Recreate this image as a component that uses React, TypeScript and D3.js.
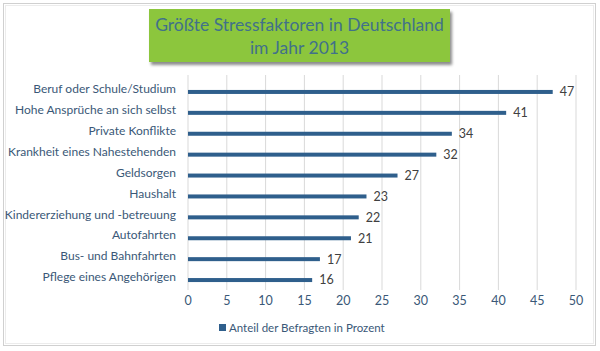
import React from "react";
import * as d3 from "d3";

const categories = [
  "Beruf oder Schule/Studium",
  "Hohe Ansprüche an sich selbst",
  "Private Konflikte",
  "Krankheit eines Nahestehenden",
  "Geldsorgen",
  "Haushalt",
  "Kindererziehung und -betreuung",
  "Autofahrten",
  "Bus- und Bahnfahrten",
  "Pflege eines Angehörigen",
];
const values = [47, 41, 34, 32, 27, 23, 22, 21, 17, 16];
const xTicks = [0, 5, 10, 15, 20, 25, 30, 35, 40, 45, 50];
const titleLines = ["Größte Stressfaktoren in Deutschland", "im Jahr 2013"];
const legendLabel = "Anteil der Befragten in Prozent";

const W = 600;
const H = 351;
const FONT = "Lato, 'Open Sans', sans-serif";
const LABEL_COLOR = "#3a5877";
const BAR_COLOR = "#2f5f8c";

export default function App() {
  const x = d3.scaleLinear().domain([0, 50]).range([188, 576]);
  const y = d3.scaleBand<string>().domain(categories).range([80, 289]);
  const gridTop = 75;
  const gridBottom = 286;
  const barH = 4;

  return (
    <svg
      width={W}
      height={H}
      style={{ position: "absolute", left: 0, top: 0, display: "block" }}
      fontFamily={FONT}
    >
      <defs>
        <filter id="shadow" x="-5%" y="-10%" width="115%" height="140%">
          <feDropShadow dx="2" dy="3" stdDeviation="1.6" floodColor="#000" floodOpacity="0.45" />
        </filter>
      </defs>
      <rect x={0} y={0} width={W} height={H} fill="#fff" />
      <rect x={3.5} y={3.5} width={592} height={342} fill="#fff" stroke="#d0d0d0" strokeWidth={1} />
      <rect x={5.5} y={5.5} width={588} height={338} fill="none" stroke="#ececec" strokeWidth={1} />

      {/* Title box */}
      <rect x={149} y={9} width={301} height={53} fill="#8cc63e" filter="url(#shadow)" />
      {titleLines.map((t, i) => (
        <text
          key={i}
          x={299.5}
          y={31 + i * 23}
          textAnchor="middle"
          fontSize={17.5}
          fill="#41718a"
        >
          {t}
        </text>
      ))}

      {/* Gridlines */}
      {xTicks.map((t) => (
        <line
          key={t}
          x1={x(t)}
          x2={x(t)}
          y1={gridTop}
          y2={gridBottom + 4}
          stroke="#d9d9d9"
          strokeWidth={1}
        />
      ))}

      {/* Bars */}
      {categories.map((c, i) => {
        const cy = (y(c) as number) + y.bandwidth() / 2 + 1.5;
        return (
          <g key={c}>
            <rect
              x={x(0)}
              y={cy - barH / 2}
              width={x(values[i]) - x(0)}
              height={barH}
              fill={BAR_COLOR}
            />
            <text
              x={x(values[i]) + 7}
              y={cy}
              dy="0.35em"
              fontSize={12.5}
              fill="#404040"
            >
              {values[i]}
            </text>
            <text
              x={176}
              y={cy - 3}
              dy="0.35em"
              textAnchor="end"
              fontSize={12}
              fill={LABEL_COLOR}
            >
              {c}
            </text>
          </g>
        );
      })}

      {/* X tick labels */}
      {xTicks.map((t) => (
        <text
          key={t}
          x={x(t)}
          y={301}
          dy="0.35em"
          textAnchor="middle"
          fontSize={12.5}
          fill={LABEL_COLOR}
        >
          {t}
        </text>
      ))}

      {/* Legend */}
      <rect x={219} y={324} width={7} height={7} fill={BAR_COLOR} />
      <text x={229} y={327.5} dy="0.35em" fontSize={11.5} fill={LABEL_COLOR}>
        {legendLabel}
      </text>
    </svg>
  );
}
